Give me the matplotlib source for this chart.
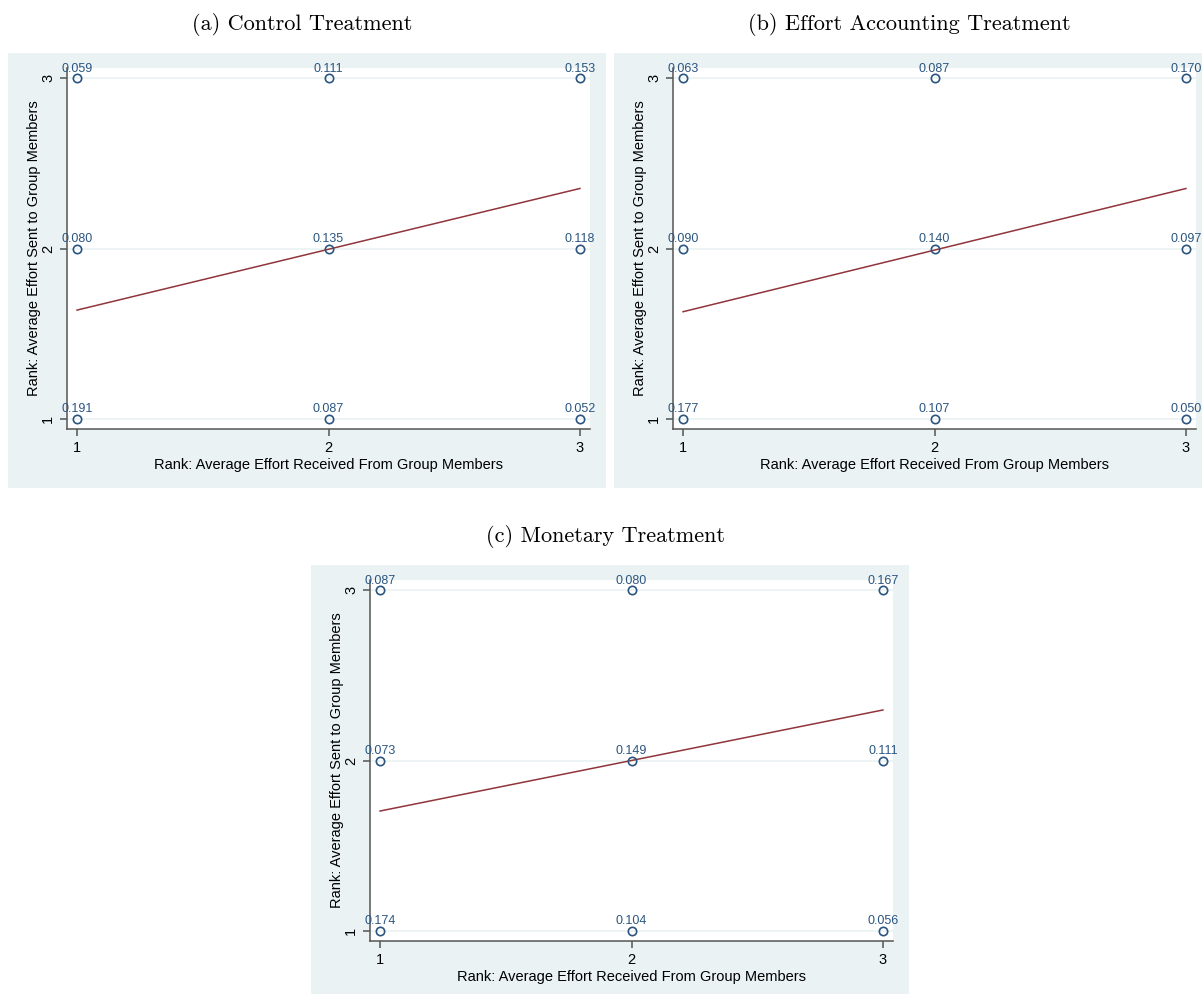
import numpy as np
import matplotlib.pyplot as plt
from matplotlib.patches import Rectangle

# rank grid: x = rank received, y = rank sent
x_rank = [1, 2, 3]
y_rank = [1, 2, 3]

# share of subjects in each cell, rows = y rank (1, 2, 3), cols = x rank (1, 2, 3)
control = [[0.191, 0.087, 0.052],
           [0.080, 0.135, 0.118],
           [0.059, 0.111, 0.153]]
effort_acc = [[0.177, 0.107, 0.050],
              [0.090, 0.140, 0.097],
              [0.063, 0.087, 0.170]]
monetary = [[0.174, 0.104, 0.056],
            [0.073, 0.149, 0.111],
            [0.087, 0.080, 0.167]]

titles = ['(a) Control Treatment', '(b) Effort Accounting Treatment', '(c) Monetary Treatment']

W, H = 1202, 994
BG = '#eaf2f3'
NAVY = '#1a476f'
MAROON = '#90353b'
AXC = '#555555'

plt.rcParams['font.family'] = ['Liberation Sans', 'DejaVu Sans']
fig = plt.figure(figsize=(W / 100, H / 100), dpi=100)


def fx(px):
    return px / W


def fy(py):
    return 1 - py / H


# panel layout in pixels: (bg x0, bg y0, bg x1, bg y1, axes left, axes top, title x, title y)
panels = [
    (8, 53, 606, 488, 67, 68, 302, 25),
    (614, 53, 1210, 488, 673, 68, 909, 25),
    (311, 565, 909, 1000, 370, 580, 605, 537),
]
data = [control, effort_acc, monetary]

for (bx0, by0, bx1, by1, al, at, tx, ty), grid, title in zip(panels, data, titles):
    fig.patches.append(Rectangle((fx(bx0), fy(by1)), fx(bx1 - bx0), (by1 - by0) / H,
                                 transform=fig.transFigure, facecolor=BG, edgecolor='none', zorder=-1))
    fig.text(fx(tx), fy(ty), title, family='cmr10', fontsize=16, ha='center', va='center')

    ax = fig.add_axes([fx(al), fy(at + 361), 523 / W, 361 / H])
    ax.set_facecolor('white')
    ax.set_xlim(0.96, 3.04)
    ax.set_ylim(0.941, 3.059)

    xs, ys, ws = [], [], []
    for i, yv in enumerate(y_rank):
        for j, xv in enumerate(x_rank):
            xs.append(xv)
            ys.append(yv)
            ws.append(grid[i][j])
    xs, ys, ws = np.array(xs), np.array(ys), np.array(ws)

    for yv in y_rank:
        ax.axhline(yv, color=BG, lw=1.2, zorder=1)

    # weighted linear fit
    b, a = np.polyfit(xs, ys, 1, w=np.sqrt(ws))
    xl = np.array([1, 3])
    ax.plot(xl, a + b * xl, color=MAROON, lw=1.1, zorder=2)

    ax.plot(xs, ys, 'o', ms=6, mfc='none', mec='#2b5580', mew=1.2, zorder=3)
    for xv, yv, wv in zip(xs, ys, ws):
        ax.annotate(f'{wv:.3f}', (xv, yv), xytext=(0, 2.5), textcoords='offset points',
                    ha='center', va='bottom', color='#2b5580', fontsize=9, zorder=4,
                    annotation_clip=False)

    for s in ['top', 'right']:
        ax.spines[s].set_visible(False)
    for s in ['left', 'bottom']:
        ax.spines[s].set_color(AXC)
        ax.spines[s].set_linewidth(1.1)
    ax.set_xticks(x_rank)
    ax.set_yticks(y_rank)
    ax.tick_params(colors=AXC, labelcolor='black', labelsize=10.5, length=5, width=1.1)
    plt.setp(ax.get_yticklabels(), rotation=90, va='center')
    ax.set_xlabel('Rank: Average Effort Received From Group Members', fontsize=10.5, labelpad=2)
    ax.set_ylabel('Rank: Average Effort Sent to Group Members', fontsize=10.5, labelpad=0)

fig.savefig('out.png', dpi=100)
